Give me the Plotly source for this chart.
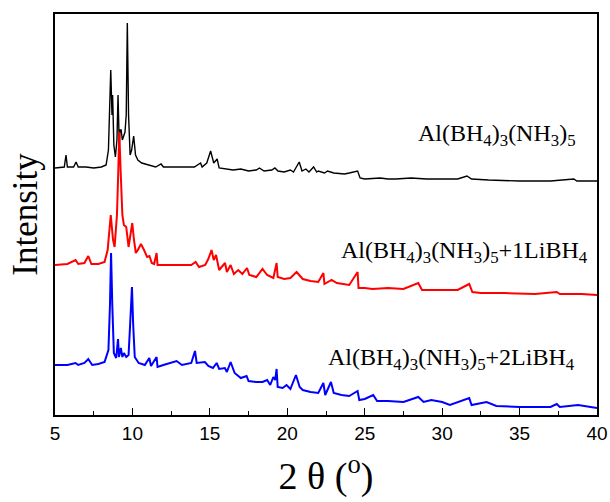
import plotly.graph_objects as go

# 2-theta (deg) and intensity (arb. units, offset stacked)
black_x = [5.0, 5.6, 5.71, 5.8, 6.2, 6.36, 6.5, 7.0, 7.5, 8.0, 8.3, 8.45, 8.6, 8.68, 8.72, 8.8, 8.9, 9.0, 9.07, 9.15,
           9.2, 9.27, 9.35, 9.45, 9.52, 9.6, 9.67, 9.75, 9.85, 9.95, 10.08, 10.2, 10.35, 10.6, 11.0, 11.5, 11.85, 12.0,
           13.0, 14.0, 14.4, 14.5, 14.8, 15.05, 15.25, 15.47, 15.6, 16.0, 16.5, 17.0, 17.5, 18.0, 18.2, 18.5, 19.0,
           19.2, 19.4, 19.8, 20.2, 20.4, 20.77, 20.95, 21.2, 21.4, 21.7, 21.9, 22.0, 22.4, 22.6, 23.0, 23.7, 24.0,
           24.54, 24.7, 25.0, 26.0, 26.5, 27.0, 28.0, 29.0, 30.0, 31.0, 31.6, 31.9, 33.0, 35.0, 37.0, 38.5, 38.7, 40.0]
black_y = [247, 248, 260, 248, 248, 253, 248, 248, 247, 248, 250, 265, 345, 300, 320, 270, 258, 275, 320, 270,
           285, 285, 275, 280, 283, 300, 392, 300, 260, 265, 279, 260, 255, 252, 250, 248, 251, 248,
           248, 248, 252, 248, 252, 264, 252, 256, 247, 246, 245, 246, 244, 245, 247, 244, 245,
           247, 244, 243, 245, 243, 253, 244, 246, 243, 248, 243, 244, 242, 244, 242, 241, 242,
           244, 237, 236, 237, 236, 236, 237, 236, 236, 236, 239, 236, 235, 234, 234, 236, 234, 234]

red_x = [5.0, 5.8, 6.33, 6.5, 6.9, 7.15, 7.35, 7.8, 8.2, 8.4, 8.6, 8.75, 8.85, 9.0, 9.08, 9.15, 9.25, 9.35, 9.45,
         9.6, 9.75, 9.85, 9.99, 10.1, 10.22, 10.35, 10.55, 10.75, 10.95, 11.1, 11.25, 11.4, 11.56, 11.62, 12.0,
         13.0, 13.8, 14.08, 14.3, 14.7, 14.9, 15.11, 15.25, 15.4, 15.6, 15.98, 16.1, 16.34, 16.55, 16.83, 17.1,
         17.4, 17.55, 18.0, 18.4, 18.7, 19.1, 19.31, 19.38, 19.8, 20.2, 20.6, 20.8, 21.0, 21.5, 22.0, 22.33, 22.4,
         22.86, 23.2, 24.0, 24.54, 24.6, 25.0, 25.5, 26.5, 27.5, 28.46, 28.7, 29.5, 30.5, 31.0, 31.75, 31.95,
         32.5, 34.0, 36.0, 37.4, 37.6, 39.0, 40.0]
red_y = [150, 151, 155, 151, 152, 159, 151, 151, 153, 165, 200, 175, 168, 200, 240, 283, 240, 200, 190,
         188, 168, 180, 192, 175, 162, 165, 171, 165, 158, 159, 152, 151, 162, 150, 150,
         150, 150, 153, 148, 150, 156, 165, 155, 160, 145, 152, 143, 150, 141, 145, 141,
         147, 140, 138, 146, 140, 137, 152, 138, 136, 137, 143, 140, 136, 134, 133, 142, 131,
         135, 132, 130, 143, 127, 127, 126, 127, 126, 132, 125, 125, 125, 125, 131, 123,
         122, 122, 121, 123, 121, 121, 120]

blue_x = [5.0, 5.8, 6.33, 6.5, 6.9, 7.15, 7.4, 7.8, 8.2, 8.45, 8.55, 8.62, 8.7, 8.8, 8.95, 9.07, 9.13, 9.25, 9.35,
          9.45, 9.6, 9.75, 9.85, 9.97, 10.05, 10.15, 10.4, 10.8, 11.09, 11.2, 11.56, 11.62, 12.0, 12.85, 13.2,
          13.8, 14.04, 14.15, 14.68, 14.9, 15.2, 15.44, 15.6, 15.97, 16.1, 16.34, 16.6, 17.0, 17.37, 17.5, 18.0,
          18.4, 18.7, 18.9, 19.1, 19.22, 19.31, 19.38, 19.7, 19.95, 20.2, 20.56, 20.8, 21.0, 21.5, 22.0, 22.33,
          22.45, 22.82, 23.0, 23.5, 24.0, 24.54, 24.65, 25.0, 25.55, 25.8, 26.5, 27.5, 28.46, 28.8, 29.3, 30.0,
          30.5, 31.75, 31.9, 32.87, 33.5, 35.0, 37.0, 37.4, 37.6, 38.78, 40.0]
blue_y = [50, 50, 52, 50, 52, 56, 50, 51, 53, 65, 110, 162, 110, 62, 57, 76, 58, 67, 58,
          62, 58, 60, 90, 128, 90, 58, 52, 50, 57, 49, 58, 48, 50, 54, 50,
          52, 64, 52, 53, 49, 47, 52, 46, 47, 43, 53, 42, 37, 39, 34, 33,
          33, 35, 30, 38, 35, 46, 28, 27, 30, 26, 40, 28, 25, 23, 22, 32,
          20, 33, 22, 20, 19, 24, 15, 16, 20, 14, 14, 13, 18, 13, 15, 13,
          10, 17, 10, 13, 9, 8, 8, 11, 8, 10, 7]

labels = ["Al(BH<sub>4</sub>)<sub>3</sub>(NH<sub>3</sub>)<sub>5</sub>",
          "Al(BH<sub>4</sub>)<sub>3</sub>(NH<sub>3</sub>)<sub>5</sub>+1LiBH<sub>4</sub>",
          "Al(BH<sub>4</sub>)<sub>3</sub>(NH<sub>3</sub>)<sub>5</sub>+2LiBH<sub>4</sub>"]
label_x = [38.76, 39.54, 38.7]
label_y = [280, 163, 56]

fig = go.Figure()
fig.add_trace(go.Scatter(x=black_x, y=black_y, mode="lines", line=dict(color="#000000", width=1.4)))
fig.add_trace(go.Scatter(x=red_x, y=red_y, mode="lines", line=dict(color="#ff0000", width=2)))
fig.add_trace(go.Scatter(x=blue_x, y=blue_y, mode="lines", line=dict(color="#0000ff", width=2)))

for t, lx, ly in zip(labels, label_x, label_y):
    fig.add_annotation(x=lx, y=ly, text=t, showarrow=False, xanchor="right", yanchor="middle",
                       font=dict(family="Liberation Serif", size=24, color="#000000"))

fig.update_layout(
    width=610, height=502,
    margin=dict(l=55, r=13, t=14, b=87, autoexpand=False),
    paper_bgcolor="white", plot_bgcolor="white",
    showlegend=False,
    xaxis=dict(range=[5, 40], dtick=5, tick0=5, ticks="inside", ticklen=7, tickwidth=1.2, tickcolor="#000",
               minor=dict(dtick=2.5, ticks="inside", ticklen=4, tickwidth=1.2, tickcolor="#000"),
               showline=True, linecolor="#000", linewidth=1.5, mirror=True, showgrid=False, zeroline=False,
               automargin=False,
               tickfont=dict(family="Liberation Sans", size=19, color="#000"),
               title=dict(text="2 θ (<sup>o</sup>)", font=dict(family="Liberation Serif", size=38, color="#000"),
                          standoff=20)),
    yaxis=dict(range=[0, 401], showticklabels=False, ticks="", showline=True, linecolor="#000", linewidth=1.5,
               mirror=True, showgrid=False, zeroline=False, automargin=False,
               title=dict(text="Intensity", font=dict(family="Liberation Serif", size=35, color="#000"),
                          standoff=5)),
)

fig.write_html("out.html")
